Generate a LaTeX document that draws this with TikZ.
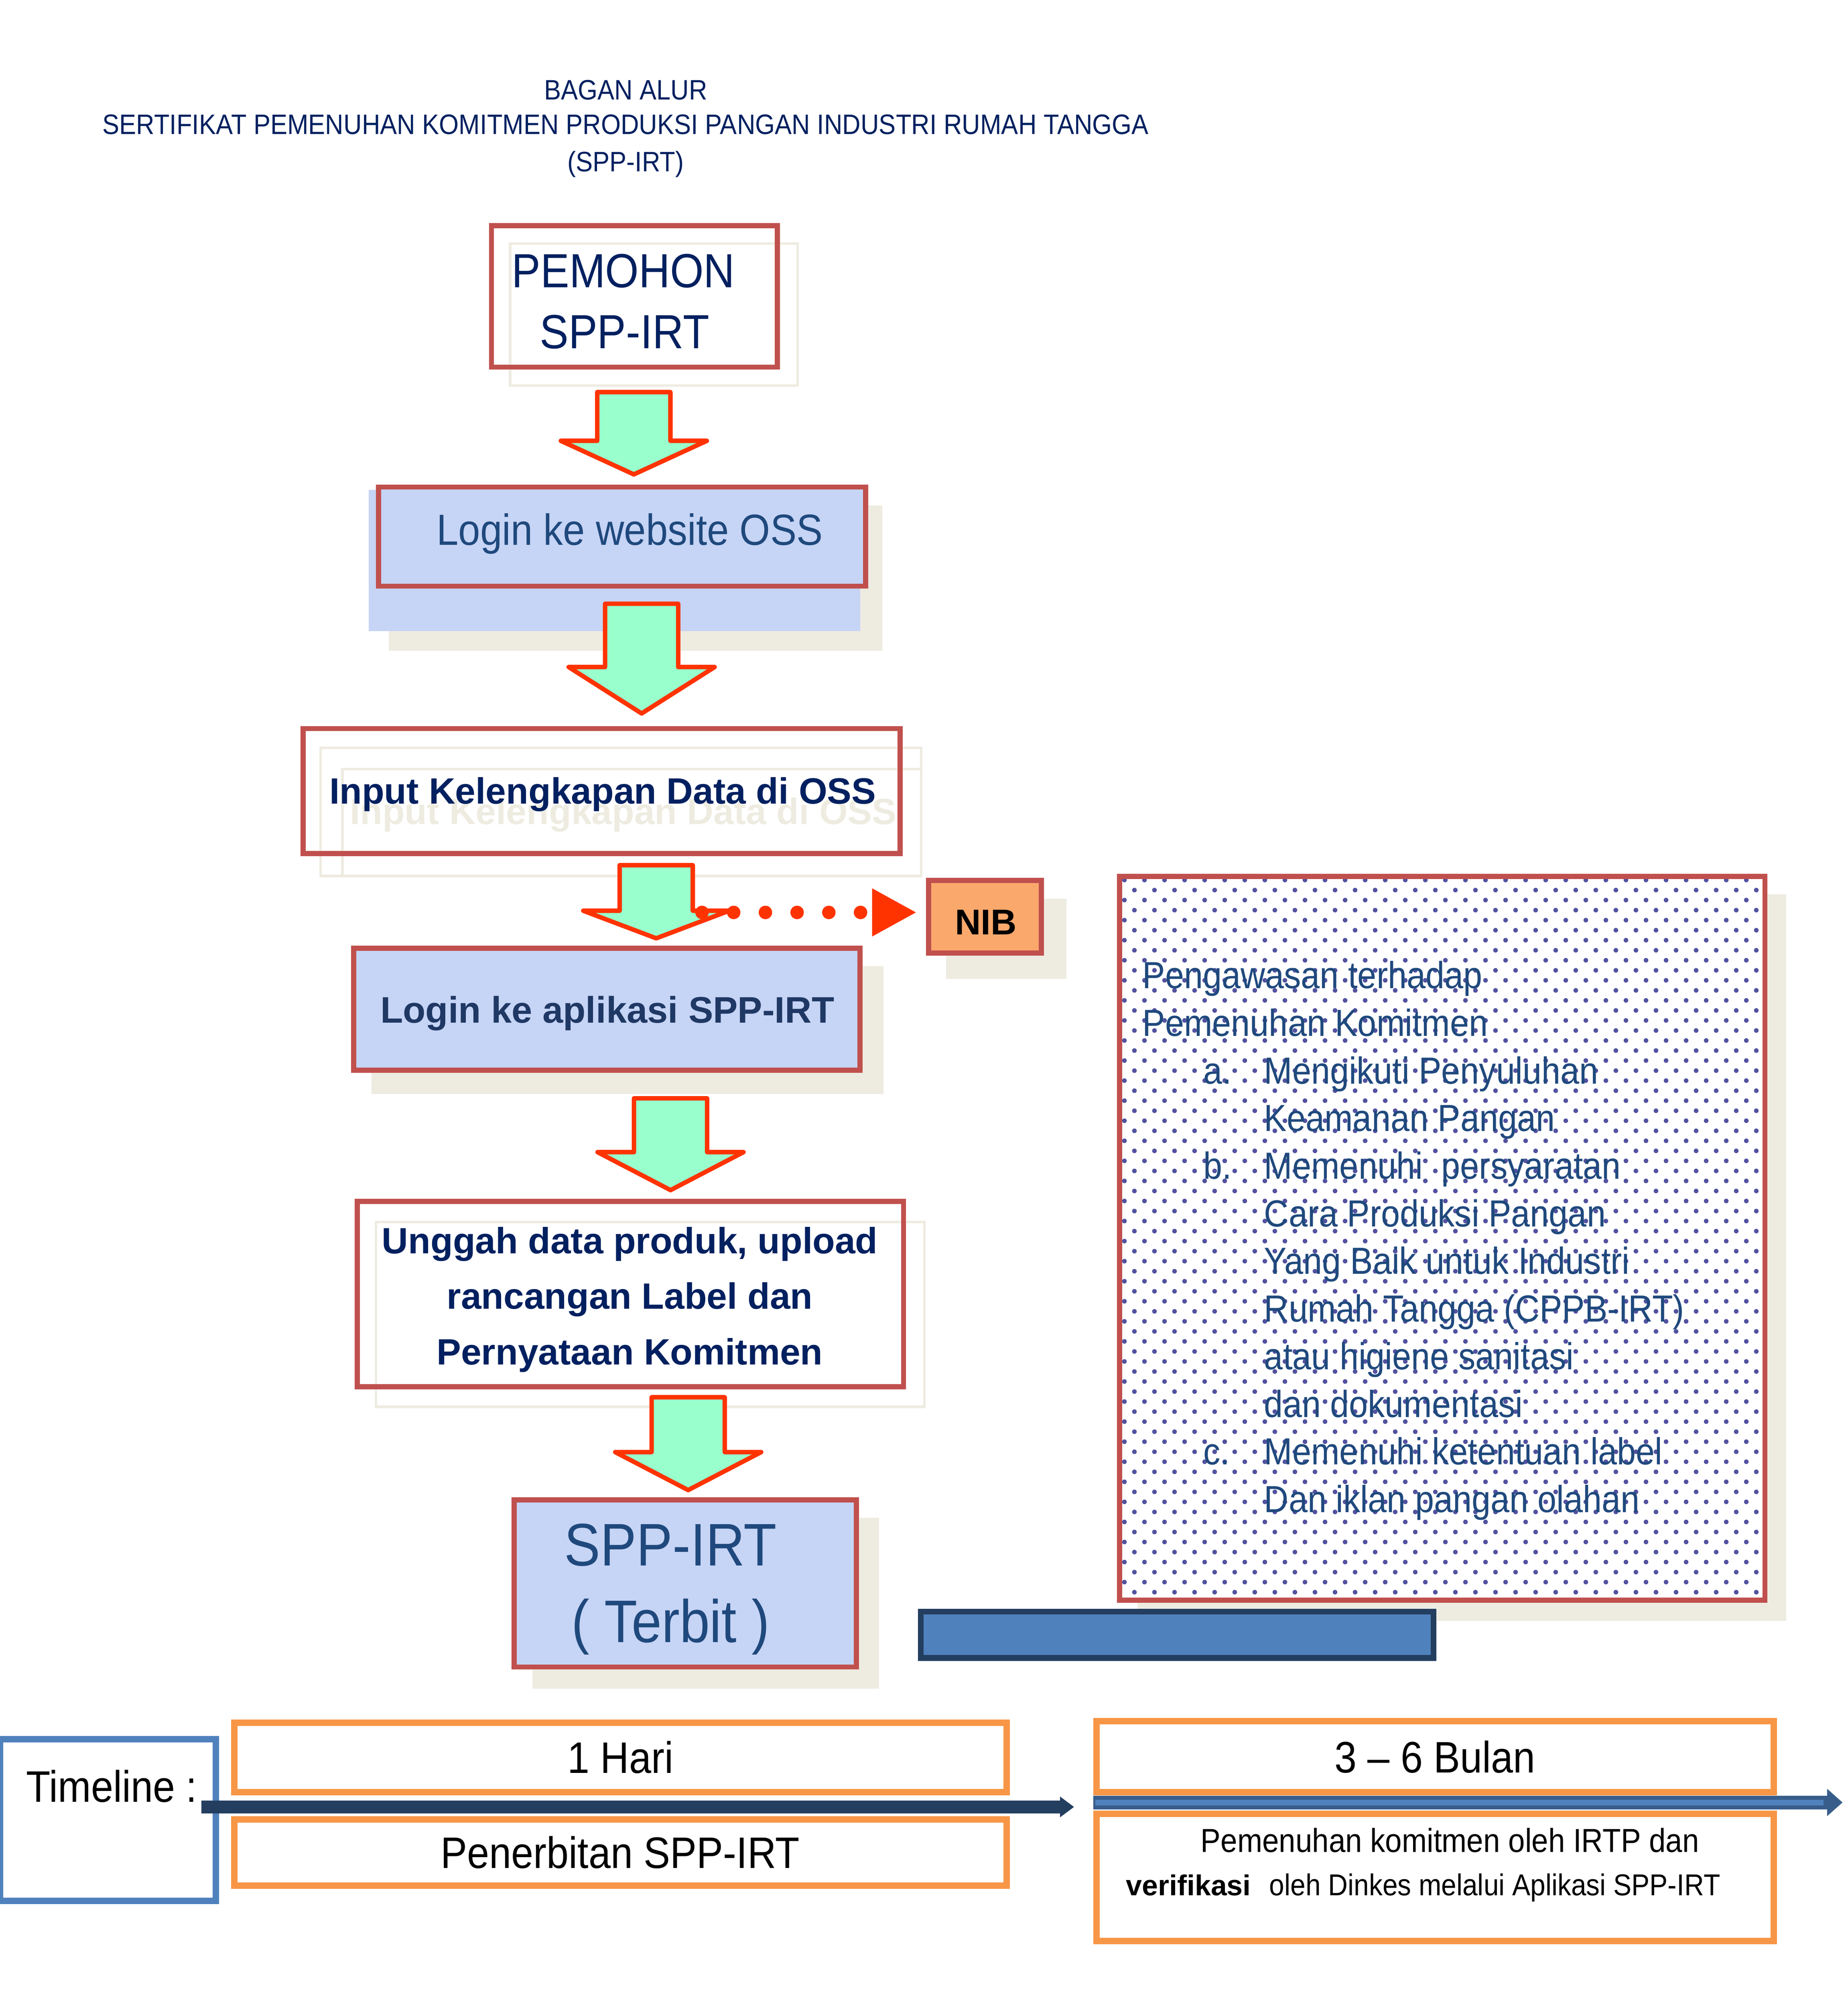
\documentclass[tikz,border=0pt]{standalone}
\usepackage{fontspec}
\setmainfont{Liberation Sans}[FakeStretch=0.9]
\newfontfamily\boldsans{Liberation Sans}
\usetikzlibrary{shapes.arrows, arrows.meta, patterns}
\definecolor{boxred}{RGB}{192, 80, 77}
\definecolor{arrowred}{RGB}{255, 51, 0}
\definecolor{arrowgreen}{RGB}{153, 255, 204}
\definecolor{texblue}{RGB}{198, 212, 245}
\definecolor{shadowbeige}{RGB}{238, 236, 225}
\definecolor{titlenavy}{RGB}{0, 32, 96}
\definecolor{textnavy}{RGB}{31, 73, 125}
\definecolor{loginnavy}{RGB}{31, 56, 100}
\definecolor{darknavy}{RGB}{36, 62, 96}
\definecolor{barblue}{RGB}{79, 129, 189}
\definecolor{arrowblue}{RGB}{56, 93, 138}
\definecolor{nibfill}{RGB}{250, 168, 108}
\definecolor{tlorange}{RGB}{247, 150, 70}
\definecolor{dotpurple}{RGB}{82, 82, 160}
\pgfdeclarepatternformonly{kdots}{\pgfpointorigin}{\pgfpoint{15.65pt}{15.65pt}}{\pgfpoint{15.65pt}{15.65pt}}{%
    \pgfpathcircle{\pgfpoint{3pt}{3pt}}{1.8pt}%
    \pgfpathcircle{\pgfpoint{10.83pt}{10.83pt}}{1.8pt}%
    \pgfusepath{fill}%
}
\tikzset{
    flowbox/.style={draw=boxred, line width=4pt, inner sep=0pt},
    texbox/.style={flowbox, fill=texblue},
    ghostline/.style={draw=shadowbeige, line width=2pt},
    garrow/.style={
        single arrow, draw=arrowred, fill=arrowgreen, line width=3.5pt, line join=round,
        inner xsep=0pt, inner ysep=26.85pt, minimum width=110.8pt, single arrow head extend=28.5pt,
        rotate=-90
    },
    plaintext/.style={inner sep=0pt, anchor=base},
    boldtext/.style={plaintext, font=\boldsans\bfseries\fontsize{28.6}{34}\selectfont, text=titlenavy},
    notetext/.style={plaintext, anchor=base west, font=\fontsize{29.5}{37}\selectfont, text=textnavy},
    tlbox/.style={draw=tlorange, line width=5pt, inner sep=0pt, text height=24.7pt, text depth=0pt,
        font=\fontsize{34.5}{40}\selectfont},
    dotarrow/.style={arrowred, line width=10.5pt, line cap=round, dash pattern=on 0pt off 24.8pt,
        -{Triangle[length=35pt,width=35pt]}},
}

\begin{document}
\begin{tikzpicture}[x=1pt,y=-1pt]
    \useasboundingbox (0,0) rectangle (1445,1568.9);
    % judul
    \foreach \ln/\yb [count=\i] in {BAGAN ALUR/78, SERTIFIKAT PEMENUHAN KOMITMEN PRODUKSI PANGAN INDUSTRI RUMAH TANGGA/105, (SPP-IRT)/134}
        \node[plaintext, text=titlenavy, font=\fontsize{22}{28}\selectfont] (title\i) at (489.3,\yb) {\ln};
    % bayangan
    \foreach \xa/\ya/\xb/\yb in {304/395.5/690/509, 290.6/755.6/691/855.6, 416.5/1187/687.4/1320.8,
        740/703/834/765.5, 889.6/699.5/1397/1267.6}
        \fill[shadowbeige] (\xa,\ya) rectangle (\xb,\yb);
    \foreach \xa/\ya/\xb/\yb in {399/190.4/623.8/301.6, 250.7/584.9/720.5/685.1, 267.8/601.6/720.5/685.1,
        294/955.7/723/1100.2}
        \draw[ghostline] (\xa,\ya) rectangle (\xb,\yb);
    \fill[texblue] (288.4,383) rectangle (672.7,493.5);

    \node[flowbox, minimum width=223.6pt, minimum height=110.7pt] (pemohon) at (496.2,231.75) {};
    \node[texbox, minimum width=381pt, minimum height=77.5pt] (oss) at (486.5,419.65) {};
    \node[flowbox, minimum width=466.9pt, minimum height=97.7pt] (input) at (470.45,618.65) {};
    \node[texbox, minimum width=395.9pt, minimum height=95.4pt] (aplikasi) at (474.55,789.3) {};
    \node[flowbox, minimum width=427.2pt, minimum height=145.1pt] (unggah) at (493,1012.05) {};
    \node[texbox, minimum width=267.8pt, minimum height=130.7pt] (terbit) at (535.9,1238.35) {};
    \node[flowbox, fill=nibfill, minimum width=88.2pt, minimum height=56.8pt] (nib) at (770.4,717) {};
    \node[flowbox, preaction={fill=white}, pattern=kdots, pattern color=dotpurple,
        minimum width=504.7pt, minimum height=566pt] (awas) at (1127.95,968.5) {};
    \node[draw=darknavy, fill=barblue, line width=4.5pt, inner sep=0pt,
        minimum width=401pt, minimum height=36.2pt] (bar) at (920.55,1278.55) {};

    \node[garrow, minimum height=64.4pt, single arrow tip angle=130.6] (arr1) at (495.7,332.25) {};
    \node[garrow, minimum height=85.8pt, single arrow tip angle=115.1] (arr2) at (501.8,506) {};
    \node[garrow, minimum height=57.2pt, single arrow tip angle=138.6] (arr3) at (513.2,699.85) {};
    \node[garrow, minimum height=71.8pt, single arrow tip angle=125] (arr4) at (524.4,887.45) {};
    \node[garrow, minimum height=72.6pt, single arrow tip angle=125] (arr5) at (538.2,1121.65) {};

    \foreach \ln/\xb/\yb [count=\i] in {PEMOHON/487.5/224.7, SPP-IRT/488.4/272.5}
        \node[plaintext, text=titlenavy, font=\fontsize{37.5}{40}\selectfont] (pemohon\i) at (\xb,\yb) {\ln};
    \node[plaintext, text=textnavy, font=\fontsize{34.1}{40}\selectfont] (osstext) at (492.5,426.2) {Login ke website OSS};
    \node[boldtext, text=shadowbeige] (inputghost) at (487.4,644.5) {Input Kelengkapan Data di OSS};
    \node[boldtext] (inputtext) at (471.4,628.5) {Input Kelengkapan Data di OSS};
    \node[boldtext, text=loginnavy, font=\boldsans\bfseries\fontsize{28.9}{34}\selectfont] (aplikasitext) at (475,800) {Login ke aplikasi SPP-IRT};
    \foreach \ln [count=\i] in {{Unggah data produk, upload}, rancangan Label dan, Pernyataan Komitmen}
        \node[boldtext] (unggah\i) at (492.5,{980.5+43.35*(\i-1)}) {\ln};
    \foreach \ln/\yb [count=\i] in {SPP-IRT/1224.5, ( Terbit )/1284.4}
        \node[plaintext, text=textnavy, font=\fontsize{47}{50}\selectfont] (terbit\i) at (524.5,\yb) {\ln};
    \node[boldtext, text=black, font=\boldsans\bfseries\fontsize{28}{30}\selectfont] (nibtext) at (771,731) {NIB};

    \foreach \lx/\ln [count=\i] in {893.4/Pengawasan terhadap, 893.4/Pemenuhan Komitmen,
        988.5/Mengikuti Penyuluhan, 988.5/Keamanan Pangan, 988.5/Memenuhi\ \ persyaratan,
        988.5/Cara Produksi Pangan, 988.5/Yang Baik untuk Industri, 988.5/Rumah Tangga (CPPB-IRT),
        988.5/atau higiene sanitasi, 988.5/dan dokumentasi, 988.5/Memenuhi ketentuan label,
        988.5/Dan iklan pangan olahan}
        \node[notetext] (awas\i) at (\lx,{773.1+37.24*(\i-1)}) {\ln};
    \foreach \lab/\row in {a./3, b./5, c./11}
        \node[notetext] (label\row) at (941,{773.1+37.24*(\row-1)}) {\lab};

    \coordinate (nibfrom) at (549,713.6);
    \draw[dotarrow, shorten >=7.3pt] (nibfrom) -- (nibfrom -| nib.west);

    % timeline
    \node[draw=barblue, line width=5pt, inner sep=0pt, minimum width=168.9pt, minimum height=126.4pt] (tlbox) at (84.45,1423.5) {};
    \node[plaintext, anchor=base west, font=\fontsize{34.5}{40}\selectfont] (tltext) at (20.5,1409.3) {Timeline :};
    \node[tlbox, minimum width=604.1pt, minimum height=54.4pt] (hari) at (485.15,1374.5) {1 Hari};
    \node[tlbox, minimum width=604.1pt, minimum height=51.8pt] (penerbitan) at (485.15,1448.8) {Penerbitan SPP-IRT};
    \node[tlbox, minimum width=529.6pt, minimum height=55.5pt] (bulan) at (1122.3,1373.95) {3 -- 6 Bulan};
    \node[tlbox, minimum width=529.6pt, minimum height=99.3pt] (verif) at (1122.3,1468.35) {};
    \node[plaintext, anchor=base west, font=\fontsize{26}{30}\selectfont] (veriftext1) at (938.9,1448.6) {Pemenuhan komitmen oleh IRTP dan};
    \node[plaintext, anchor=base west, font=\fontsize{23.6}{30}\selectfont] (veriftext2) at (880.5,1482.5)
        {{\boldsans\bfseries\fontsize{22.5}{30}\selectfont verifikasi}\hspace{14.5pt}oleh Dinkes melalui Aplikasi SPP-IRT};

    \coordinate (tl1s) at (157.5,1413.2);
    \coordinate (tl1e) at (840,1413.2);
    \draw[darknavy, line width=10pt, -{Triangle[length=11pt,width=15.5pt]}] (tl1s) -- (tl1e);
    \coordinate (tl2s) at (855,1409.7);
    \coordinate (tl2e) at (1441,1409.7);
    \draw[arrowblue, line width=10.7pt, -{Triangle[length=12pt,width=20.5pt]}] (tl2s) -- (tl2e);
    \draw[barblue, line width=4.5pt] ([xshift=1.5pt]tl2s) -- ([xshift=-15pt]tl2e);
\end{tikzpicture}
\end{document}
